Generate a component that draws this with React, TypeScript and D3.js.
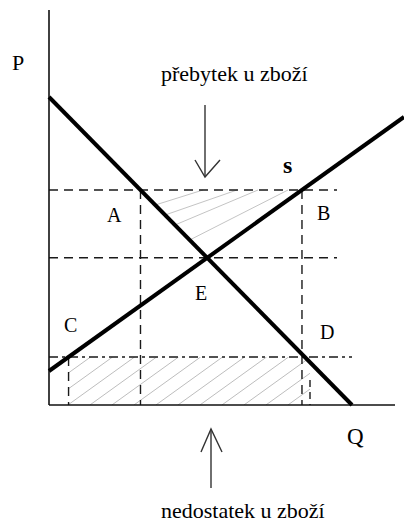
import React from "react";
import * as d3 from "d3";

// ---- data (model units: quantity Q, price P) ----
const axisMax = { q: 346, p: 395 };
const demand = [
  { q: 0, p: 308 },
  { q: 303, p: 0 },
];
const supply = [
  { q: 0, p: 34 },
  { q: 355, p: 288 },
];
const priceLevels = { high: 215, low: 48 };
const guideEnds = { high: 288, eq: 288, low: 303 };
const extraQ = 261; // second short vertical at D
const extraQTop = 25;
// upper hatch: start price on demand curve, end quantity on high price line
const upperHatchStartP = [200, 190, 180, 165];
const upperHatchEndQ = [154, 188, 209, 239];
const pointLabels = ["A", "B", "C", "D", "E"];
const texts = { top: "přebytek u zboží", bottom: "nedostatek u zboží", p: "P", q: "Q", s: "s" };

const W = 404;
const H = 523;
const x = d3.scaleLinear().domain([0, axisMax.q]).range([49, 395]);
const y = d3.scaleLinear().domain([0, axisMax.p]).range([405, 10]);

const slope = (l: { q: number; p: number }[]) => (l[1].p - l[0].p) / (l[1].q - l[0].q);
const qAt = (l: { q: number; p: number }[], p: number) => l[0].q + (p - l[0].p) / slope(l);
const pAt = (l: { q: number; p: number }[], q: number) => l[0].p + (q - l[0].q) * slope(l);

const sD = slope(demand);
const sS = slope(supply);
const qE = (supply[0].p - demand[0].p) / (sD - sS);
const pE = pAt(demand, qE);
const qA = qAt(demand, priceLevels.high);
const qB = qAt(supply, priceLevels.high);
const qC = qAt(supply, priceLevels.low);

const line = d3
  .line<{ q: number; p: number }>()
  .x((d) => x(d.q))
  .y((d) => y(d.p));

const FONT = "'Liberation Serif', 'Times New Roman', serif";

export default function App() {
  const dash = "9,6";
  const dashDot = "9,4,3,4";
  const hatchSpacing = 22;
  const hatchSlope = 0.72;
  const lowTop = y(priceLevels.low);
  const lowBot = y(0);
  const lowLeft = x(qC);
  const lowRight = x(extraQ);
  const hatchH = lowBot - lowTop;
  const lowerHatch = d3
    .range(lowLeft - hatchH / hatchSlope, lowRight + hatchSpacing, hatchSpacing)
    .map((x0) => ({ x1: x0, y1: lowBot, x2: x0 + hatchH / hatchSlope, y2: lowTop }));

  const labelPos: Record<string, [number, number]> = {
    A: [107, 222],
    B: [317, 220],
    C: [64, 332],
    D: [320, 339],
    E: [195, 300],
  };

  return (
    <svg
      width={W}
      height={H}
      style={{ position: "absolute", left: 0, top: 0, background: "#fff" }}
      fontFamily={FONT}
    >
      <defs>
        <clipPath id="lowClip">
          <rect x={lowLeft} y={lowTop} width={lowRight - lowLeft} height={hatchH} />
        </clipPath>
      </defs>

      {/* lower hatch */}
      <g clipPath="url(#lowClip)" stroke="#bdbdbd" strokeWidth={1}>
        {lowerHatch.map((h, i) => (
          <line key={i} x1={h.x1} y1={h.y1} x2={h.x2} y2={h.y2} />
        ))}
      </g>

      {/* upper hatch */}
      <g stroke="#c4c4c4" strokeWidth={1}>
        {upperHatchStartP.map((p, i) => (
          <line
            key={i}
            x1={x(qAt(demand, p))}
            y1={y(p)}
            x2={x(upperHatchEndQ[i])}
            y2={y(priceLevels.high)}
          />
        ))}
      </g>

      {/* guide lines */}
      <g stroke="#1a1a1a" strokeWidth={1.4} fill="none">
        <line x1={x(0)} x2={x(guideEnds.high)} y1={y(priceLevels.high)} y2={y(priceLevels.high)} strokeDasharray={dash} />
        <line x1={x(0)} x2={x(guideEnds.eq)} y1={y(pE)} y2={y(pE)} strokeDasharray={dash} />
        <line x1={x(0)} x2={x(guideEnds.low)} y1={y(priceLevels.low)} y2={y(priceLevels.low)} strokeDasharray={dashDot} />
        <line x1={x(qA)} x2={x(qA)} y1={y(priceLevels.high)} y2={y(0)} strokeDasharray={dash} />
        <line x1={x(qB)} x2={x(qB)} y1={y(priceLevels.high)} y2={y(0)} strokeDasharray={dash} />
        <line x1={x(qC)} x2={x(qC)} y1={y(priceLevels.low)} y2={y(0)} strokeDasharray={dash} />
        <line x1={x(extraQ)} x2={x(extraQ)} y1={y(extraQTop)} y2={y(0)} strokeDasharray="7,5" />
      </g>

      {/* axes */}
      <g stroke="#111" strokeWidth={1.6}>
        <line x1={x(0)} x2={x(0)} y1={y(axisMax.p)} y2={y(0)} />
        <line x1={x(0)} x2={x(axisMax.q)} y1={y(0)} y2={y(0)} />
      </g>

      {/* curves */}
      <path d={line(demand) || ""} stroke="#000" strokeWidth={4} fill="none" />
      <path d={line(supply) || ""} stroke="#000" strokeWidth={4} fill="none" />

      {/* arrows */}
      <g stroke="#333" strokeWidth={1.4} fill="none">
        <line x1={205} x2={205} y1={105} y2={177} />
        <polyline points="195,160 205,177 220,160" />
        <line x1={211} x2={211} y1={488} y2={429} />
        <polyline points="201,452 211,429 222,452" />
      </g>

      {/* texts */}
      <g fill="#000">
        <text x={12} y={70} fontSize={22}>{texts.p}</text>
        <text x={161} y={81} fontSize={22}>{texts.top}</text>
        <text x={283} y={173} fontSize={24} fontWeight="bold">{texts.s}</text>
        {pointLabels.map((l) => (
          <text key={l} x={labelPos[l][0]} y={labelPos[l][1]} fontSize={20}>
            {l}
          </text>
        ))}
        <text x={347} y={444} fontSize={23}>{texts.q}</text>
        <text x={161} y={518} fontSize={22}>{texts.bottom}</text>
      </g>
    </svg>
  );
}
